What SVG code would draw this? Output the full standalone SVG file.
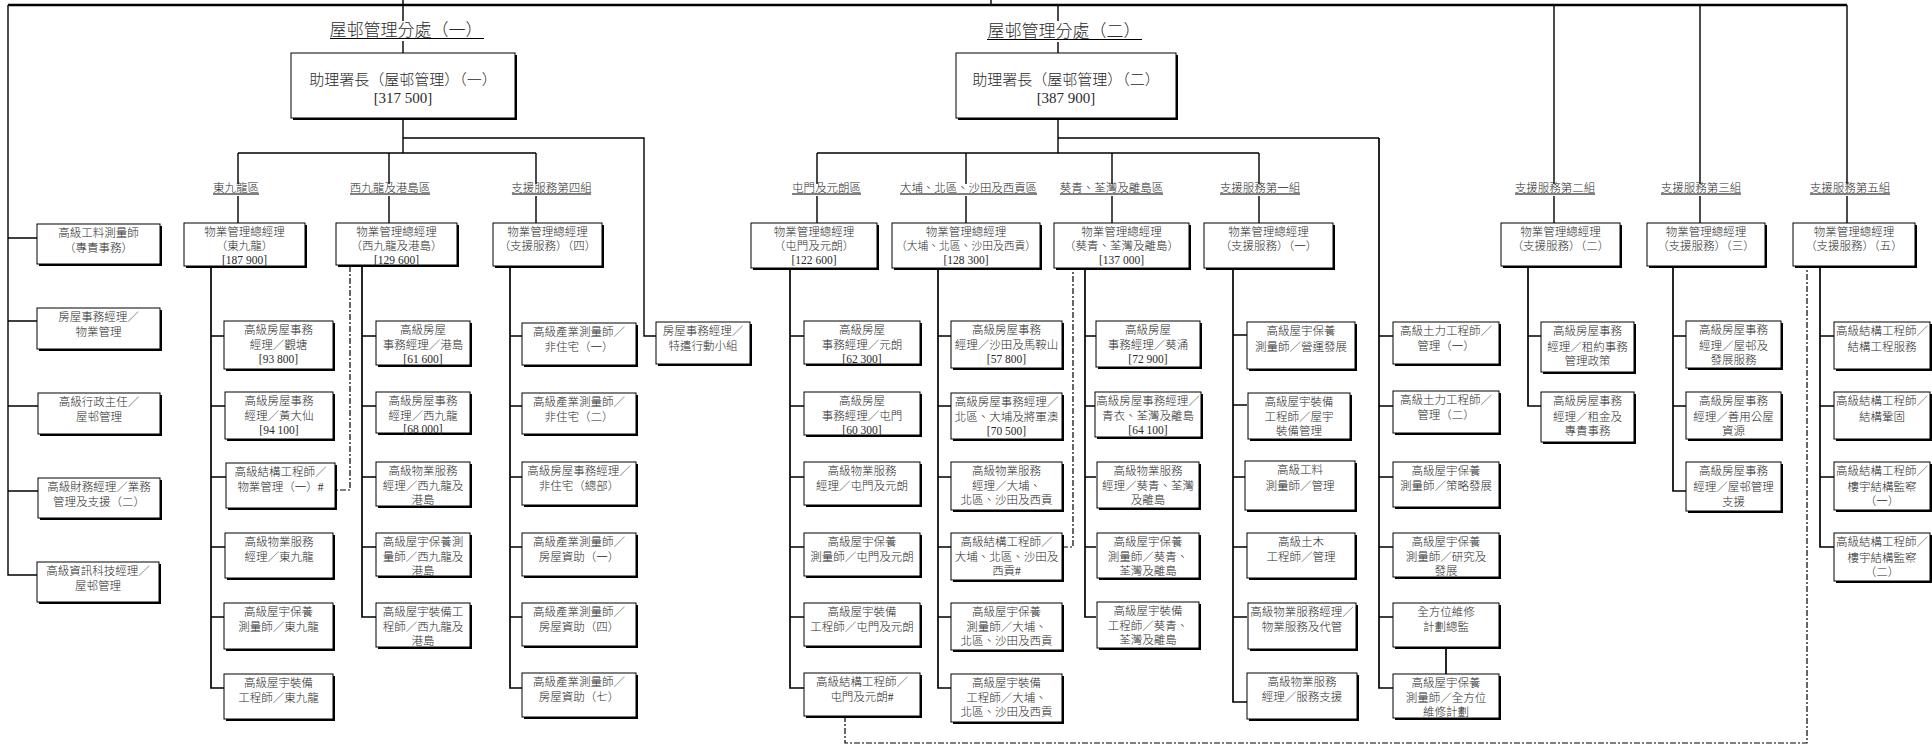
<svg xmlns="http://www.w3.org/2000/svg" width="1932" height="745" viewBox="0 0 1932 745">
<style>
.sh{fill:#000}
.bx{fill:#fff;stroke:#000;stroke-width:1}
.t{font-family:"Liberation Serif","Noto Sans CJK TC",serif;font-size:11.5px;font-weight:300;fill:#2a2a2a;text-anchor:middle}
.big{font-size:15px}
.ttl{font-size:17px}
.ln{stroke:#000;stroke-width:1.4;fill:none}
.col{stroke:#000;stroke-width:1.7;fill:none}
.top{stroke:#000;stroke-width:2.4;fill:none}
.ul{stroke:#000;stroke-width:1;fill:none}
.dash{stroke:#000;stroke-width:1.2;fill:none;stroke-dasharray:6 2 2 2}
</style>
<rect width="1932" height="745" fill="#fff"/>
<g id="connectors">
<path class="top" d="M8 5H1847"/>
<path class="ln" d="M8 5V575H37M8 238H37M8 321H37M8 406H38M8 491H38"/>
<path class="ln" d="M403 0V21M403 41V53M991 0V5M1058 5V21M1058 42V53"/>
<path class="ln" d="M403 118V153M403 138H644V336H656M238 153H536M238 153V184M238 196V223M389 153V184M389 196V223M536 153V184M536 196V223"/>
<path class="ln" d="M1058 118V153M1058 138H1379M817 153H1259M817 153V184M817 196V223M966 153V184M966 196V223M1112 153V184M1112 196V223M1259 153V184M1259 196V223"/>
<path class="ln" d="M1554 5V184M1554 196V223M1700 5V184M1700 196V223M1847 5V184M1847 196V223"/>
<path class="col" d="M211 266V688H224M211 336H224M211 406H225M211 477H226M211 547H225M211 617H224"/>
<path class="col" d="M362 265V617H376M362 336H376M362 406H376M362 477H376M362 547H376"/>
<path class="col" d="M510 266V688H522M510 336H522M510 406H522M510 477H522M510 547H522M510 617H522"/>
<path class="col" d="M790 268V688H804M790 336H804M790 406H804M790 477H804M790 547H804M790 617H804"/>
<path class="col" d="M938 268V688H951M938 336H951M938 406H951M938 477H951M938 547H951M938 617H951"/>
<path class="col" d="M1085 268V617H1096M1085 336H1096M1085 406H1096M1085 477H1096M1085 547H1096"/>
<path class="col" d="M1233 268V702H1247M1233 335H1247M1233 405H1247M1233 477H1247M1233 547H1247M1233 617H1247"/>
<path class="col" d="M1379 138V688H1393M1379 336H1393M1379 406H1393M1379 477H1393M1379 547H1393M1379 617H1393M1446 647V674"/>
<path class="col" d="M1528 266V406H1541M1528 336H1541"/>
<path class="col" d="M1673 266V491H1686M1673 336H1686M1673 406H1686"/>
<path class="col" d="M1820 266V547H1834M1820 336H1834M1820 406H1834M1820 477H1834"/>
<path class="dash" d="M350 266V490H335"/>
<path class="dash" d="M845 716V743H1807V266"/>
<path class="dash" d="M1062 547H1073V268"/>
</g>

<g id="title1"><text class="t ttl" x="406" y="36">屋邨管理分處（一）</text><path class="ul" d="M330 38.5H484"/></g>
<g id="title2"><text class="t ttl" x="1064" y="37">屋邨管理分處（二）</text><path class="ul" d="M987 39.5H1142"/></g>

<g id="ad1"><rect class="sh" x="293" y="55" width="224" height="65"/><rect class="bx" x="291" y="53" width="224" height="65"/><text class="t big" x="403" y="85">助理署長（屋邨管理）（一）</text><text class="t big" x="403" y="103">[317 500]</text></g>
<g id="ad2"><rect class="sh" x="958" y="55" width="220" height="65"/><rect class="bx" x="956" y="53" width="220" height="65"/><text class="t big" x="1066" y="85">助理署長（屋邨管理）（二）</text><text class="t big" x="1066" y="103">[387 900]</text></g>

<g id="labels">
<g id="lab_e"><text class="t" x="236" y="192">東九龍區</text><path class="ul" d="M213 194H259"/></g>
<g id="lab_w"><text class="t" x="390" y="192">西九龍及港島區</text><path class="ul" d="M350 194H430"/></g>
<g id="lab_s4"><text class="t" x="551.5" y="192">支援服務第四組</text><path class="ul" d="M512 194H591"/></g>
<g id="lab_tm"><text class="t" x="826.5" y="192">屯門及元朗區</text><path class="ul" d="M792 194H861"/></g>
<g id="lab_tp"><text class="t" x="968.5" y="192" textLength="137" lengthAdjust="spacingAndGlyphs">大埔、北區、沙田及西貢區</text><path class="ul" d="M900 194H1037"/></g>
<g id="lab_kc"><text class="t" x="1111.5" y="192">葵青、荃灣及離島區</text><path class="ul" d="M1060 194H1163"/></g>
<g id="lab_s1"><text class="t" x="1260" y="192">支援服務第一組</text><path class="ul" d="M1220 194H1300"/></g>
<g id="lab_s2"><text class="t" x="1555" y="192">支援服務第二組</text><path class="ul" d="M1515 194H1595"/></g>
<g id="lab_s3"><text class="t" x="1701" y="192">支援服務第三組</text><path class="ul" d="M1661 194H1741"/></g>
<g id="lab_s5"><text class="t" x="1850" y="192">支援服務第五組</text><path class="ul" d="M1810 194H1890"/></g>
</g>

<g id="m_east"><rect class="sh" x="186" y="225" width="121" height="43"/><rect class="bx" x="184" y="223" width="121" height="43"/><text class="t" x="244.5" y="236">物業管理總經理</text><text class="t" x="244.5" y="250">（東九龍）</text><text class="t" x="244.5" y="264">[187 900]</text></g>
<g id="m_west"><rect class="sh" x="338" y="225" width="121" height="42"/><rect class="bx" x="336" y="223" width="121" height="42"/><text class="t" x="396.5" y="236">物業管理總經理</text><text class="t" x="396.5" y="250">（西九龍及港島）</text><text class="t" x="396.5" y="263.5">[129 600]</text></g>
<g id="m_s4"><rect class="sh" x="495" y="225" width="109" height="43"/><rect class="bx" x="493" y="223" width="109" height="43"/><text class="t" x="547.5" y="236">物業管理總經理</text><text class="t" x="547.5" y="250">（支援服務）（四）</text></g>
<g id="m_tm"><rect class="sh" x="753" y="225" width="126" height="45"/><rect class="bx" x="751" y="223" width="126" height="45"/><text class="t" x="814" y="236">物業管理總經理</text><text class="t" x="814" y="250">（屯門及元朗）</text><text class="t" x="814" y="264">[122 600]</text></g>
<g id="m_tp"><rect class="sh" x="894" y="225" width="148" height="45"/><rect class="bx" x="892" y="223" width="148" height="45"/><text class="t" x="966" y="236">物業管理總經理</text><text class="t" x="966" y="250" textLength="140" lengthAdjust="spacingAndGlyphs">（大埔、北區、沙田及西貢）</text><text class="t" x="966" y="264">[128 300]</text></g>
<g id="m_kc"><rect class="sh" x="1056" y="225" width="135" height="45"/><rect class="bx" x="1054" y="223" width="135" height="45"/><text class="t" x="1121.5" y="236">物業管理總經理</text><text class="t" x="1121.5" y="250">（葵青、荃灣及離島）</text><text class="t" x="1121.5" y="264">[137 000]</text></g>
<g id="m_s1"><rect class="sh" x="1206" y="225" width="129" height="45"/><rect class="bx" x="1204" y="223" width="129" height="45"/><text class="t" x="1268.5" y="236">物業管理總經理</text><text class="t" x="1268.5" y="250">（支援服務）（一）</text></g>
<g id="m_s2"><rect class="sh" x="1503" y="225" width="119" height="43"/><rect class="bx" x="1501" y="223" width="119" height="43"/><text class="t" x="1560.5" y="236">物業管理總經理</text><text class="t" x="1560.5" y="250">（支援服務）（二）</text></g>
<g id="m_s3"><rect class="sh" x="1649" y="225" width="118" height="43"/><rect class="bx" x="1647" y="223" width="118" height="43"/><text class="t" x="1706" y="236">物業管理總經理</text><text class="t" x="1706" y="250">（支援服務）（三）</text></g>
<g id="m_s5"><rect class="sh" x="1795" y="225" width="122" height="43"/><rect class="bx" x="1793" y="223" width="122" height="43"/><text class="t" x="1854" y="236">物業管理總經理</text><text class="t" x="1854" y="250">（支援服務）（五）</text></g>

<g id="L1"><rect class="sh" x="39" y="226" width="123" height="40"/><rect class="bx" x="37" y="224" width="123" height="40"/><text class="t" x="98.5" y="237">高級工料測量師</text><text class="t" x="98.5" y="251.5">（專責事務）</text></g>
<g id="L2"><rect class="sh" x="39" y="310" width="123" height="41"/><rect class="bx" x="37" y="308" width="123" height="41"/><text class="t" x="98.5" y="321">房屋事務經理／</text><text class="t" x="98.5" y="335.5">物業管理</text></g>
<g id="L3"><rect class="sh" x="40" y="395" width="122" height="41"/><rect class="bx" x="38" y="393" width="122" height="41"/><text class="t" x="99" y="406">高級行政主任／</text><text class="t" x="99" y="420.5">屋邨管理</text></g>
<g id="L4"><rect class="sh" x="40" y="480" width="122" height="40"/><rect class="bx" x="38" y="478" width="122" height="40"/><text class="t" x="99" y="491">高級財務經理／業務</text><text class="t" x="99" y="505.5">管理及支援（二）</text></g>
<g id="L5"><rect class="sh" x="39" y="564" width="122" height="40"/><rect class="bx" x="37" y="562" width="122" height="40"/><text class="t" x="98" y="575">高級資訊科技經理／</text><text class="t" x="98" y="589.5">屋邨管理</text></g>

<g id="X1"><rect class="sh" x="658" y="324" width="94" height="42"/><rect class="bx" x="656" y="322" width="94" height="42"/><text class="t" x="703" y="335">房屋事務經理／</text><text class="t" x="703" y="349.5">特遣行動小組</text></g>

<g id="E1"><rect class="sh" x="226" y="323" width="109" height="48"/><rect class="bx" x="224" y="321" width="109" height="48"/><text class="t" x="278.5" y="334">高級房屋事務</text><text class="t" x="278.5" y="348.5">經理／觀塘</text><text class="t" x="278.5" y="363">[93 800]</text></g>
<g id="E2"><rect class="sh" x="227" y="394" width="108" height="47"/><rect class="bx" x="225" y="392" width="108" height="47"/><text class="t" x="279" y="405">高級房屋事務</text><text class="t" x="279" y="419.5">經理／黃大仙</text><text class="t" x="279" y="434">[94 100]</text></g>
<g id="E3"><rect class="sh" x="228" y="465" width="109" height="45"/><rect class="bx" x="226" y="463" width="109" height="45"/><text class="t" x="280.5" y="476">高級結構工程師／</text><text class="t" x="280.5" y="490.5">物業管理（一）#</text></g>
<g id="E4"><rect class="sh" x="227" y="535" width="108" height="45"/><rect class="bx" x="225" y="533" width="108" height="45"/><text class="t" x="279" y="546">高級物業服務</text><text class="t" x="279" y="560.5">經理／東九龍</text></g>
<g id="E5"><rect class="sh" x="226" y="605" width="109" height="46"/><rect class="bx" x="224" y="603" width="109" height="46"/><text class="t" x="278.5" y="616">高級屋宇保養</text><text class="t" x="278.5" y="630.5">測量師／東九龍</text></g>
<g id="E6"><rect class="sh" x="226" y="676" width="109" height="45"/><rect class="bx" x="224" y="674" width="109" height="45"/><text class="t" x="278.5" y="687">高級屋宇裝備</text><text class="t" x="278.5" y="701.5">工程師／東九龍</text></g>

<g id="W1"><rect class="sh" x="378" y="323" width="94" height="44"/><rect class="bx" x="376" y="321" width="94" height="44"/><text class="t" x="423" y="334">高級房屋</text><text class="t" x="423" y="348.5">事務經理／港島</text><text class="t" x="423" y="363">[61 600]</text></g>
<g id="W2"><rect class="sh" x="378" y="394" width="94" height="41"/><rect class="bx" x="376" y="392" width="94" height="41"/><text class="t" x="423" y="405">高級房屋事務</text><text class="t" x="423" y="419.5">經理／西九龍</text><text class="t" x="423" y="433">[68 000]</text></g>
<g id="W3"><rect class="sh" x="378" y="464" width="94" height="44"/><rect class="bx" x="376" y="462" width="94" height="44"/><text class="t" x="423" y="475">高級物業服務</text><text class="t" x="423" y="489.5">經理／西九龍及</text><text class="t" x="423" y="504">港島</text></g>
<g id="W4"><rect class="sh" x="378" y="535" width="94" height="43"/><rect class="bx" x="376" y="533" width="94" height="43"/><text class="t" x="423" y="546">高級屋宇保養測</text><text class="t" x="423" y="560.5">量師／西九龍及</text><text class="t" x="423" y="575">港島</text></g>
<g id="W5"><rect class="sh" x="378" y="605" width="94" height="44"/><rect class="bx" x="376" y="603" width="94" height="44"/><text class="t" x="423" y="616">高級屋宇裝備工</text><text class="t" x="423" y="630.5">程師／西九龍及</text><text class="t" x="423" y="645">港島</text></g>

<g id="S1"><rect class="sh" x="524" y="325" width="114" height="42"/><rect class="bx" x="522" y="323" width="114" height="42"/><text class="t" x="579" y="336">高級產業測量師／</text><text class="t" x="579" y="350.5">非住宅（一）</text></g>
<g id="S2"><rect class="sh" x="524" y="395" width="114" height="41"/><rect class="bx" x="522" y="393" width="114" height="41"/><text class="t" x="579" y="406">高級產業測量師／</text><text class="t" x="579" y="420.5">非住宅（二）</text></g>
<g id="S3"><rect class="sh" x="524" y="464" width="114" height="43"/><rect class="bx" x="522" y="462" width="114" height="43"/><text class="t" x="579" y="475">高級房屋事務經理／</text><text class="t" x="579" y="489.5">非住宅（總部）</text></g>
<g id="S4"><rect class="sh" x="524" y="535" width="114" height="43"/><rect class="bx" x="522" y="533" width="114" height="43"/><text class="t" x="579" y="546">高級產業測量師／</text><text class="t" x="579" y="560.5">房屋資助（一）</text></g>
<g id="S5"><rect class="sh" x="524" y="605" width="114" height="43"/><rect class="bx" x="522" y="603" width="114" height="43"/><text class="t" x="579" y="616">高級產業測量師／</text><text class="t" x="579" y="630.5">房屋資助（四）</text></g>
<g id="S6"><rect class="sh" x="524" y="675" width="114" height="44"/><rect class="bx" x="522" y="673" width="114" height="44"/><text class="t" x="579" y="686">高級產業測量師／</text><text class="t" x="579" y="700.5">房屋資助（七）</text></g>

<g id="T1"><rect class="sh" x="806" y="323" width="116" height="43"/><rect class="bx" x="804" y="321" width="116" height="43"/><text class="t" x="862" y="334">高級房屋</text><text class="t" x="862" y="348.5">事務經理／元朗</text><text class="t" x="862" y="363">[62 300]</text></g>
<g id="T2"><rect class="sh" x="806" y="394" width="116" height="43"/><rect class="bx" x="804" y="392" width="116" height="43"/><text class="t" x="862" y="405">高級房屋</text><text class="t" x="862" y="419.5">事務經理／屯門</text><text class="t" x="862" y="434">[60 300]</text></g>
<g id="T3"><rect class="sh" x="806" y="464" width="116" height="43"/><rect class="bx" x="804" y="462" width="116" height="43"/><text class="t" x="862" y="475">高級物業服務</text><text class="t" x="862" y="489.5">經理／屯門及元朗</text></g>
<g id="T4"><rect class="sh" x="806" y="535" width="116" height="43"/><rect class="bx" x="804" y="533" width="116" height="43"/><text class="t" x="862" y="546">高級屋宇保養</text><text class="t" x="862" y="560.5">測量師／屯門及元朗</text></g>
<g id="T5"><rect class="sh" x="806" y="605" width="116" height="43"/><rect class="bx" x="804" y="603" width="116" height="43"/><text class="t" x="862" y="616">高級屋宇裝備</text><text class="t" x="862" y="630.5">工程師／屯門及元朗</text></g>
<g id="T6"><rect class="sh" x="806" y="675" width="116" height="43"/><rect class="bx" x="804" y="673" width="116" height="43"/><text class="t" x="862" y="686">高級結構工程師／</text><text class="t" x="862" y="700.5">屯門及元朗#</text></g>

<g id="P1"><rect class="sh" x="953" y="323" width="111" height="47"/><rect class="bx" x="951" y="321" width="111" height="47"/><text class="t" x="1006.5" y="334">高級房屋事務</text><text class="t" x="1006.5" y="348.5">經理／沙田及馬鞍山</text><text class="t" x="1006.5" y="363">[57 800]</text></g>
<g id="P2"><rect class="sh" x="953" y="395" width="111" height="46"/><rect class="bx" x="951" y="393" width="111" height="46"/><text class="t" x="1006.5" y="406">高級房屋事務經理／</text><text class="t" x="1006.5" y="420.5">北區、大埔及將軍澳</text><text class="t" x="1006.5" y="435">[70 500]</text></g>
<g id="P3"><rect class="sh" x="953" y="464" width="111" height="48"/><rect class="bx" x="951" y="462" width="111" height="48"/><text class="t" x="1006.5" y="475">高級物業服務</text><text class="t" x="1006.5" y="489.5">經理／大埔、</text><text class="t" x="1006.5" y="504">北區、沙田及西貢</text></g>
<g id="P4"><rect class="sh" x="953" y="535" width="111" height="47"/><rect class="bx" x="951" y="533" width="111" height="47"/><text class="t" x="1006.5" y="546">高級結構工程師／</text><text class="t" x="1006.5" y="560.5">大埔、北區、沙田及</text><text class="t" x="1006.5" y="575">西貢#</text></g>
<g id="P5"><rect class="sh" x="953" y="605" width="111" height="47"/><rect class="bx" x="951" y="603" width="111" height="47"/><text class="t" x="1006.5" y="616">高級屋宇保養</text><text class="t" x="1006.5" y="630.5">測量師／大埔、</text><text class="t" x="1006.5" y="645">北區、沙田及西貢</text></g>
<g id="P6"><rect class="sh" x="953" y="676" width="111" height="48"/><rect class="bx" x="951" y="674" width="111" height="48"/><text class="t" x="1006.5" y="687">高級屋宇裝備</text><text class="t" x="1006.5" y="701.5">工程師／大埔、</text><text class="t" x="1006.5" y="716">北區、沙田及西貢</text></g>

<g id="K1"><rect class="sh" x="1098" y="323" width="104" height="46"/><rect class="bx" x="1096" y="321" width="104" height="46"/><text class="t" x="1148" y="334">高級房屋</text><text class="t" x="1148" y="348.5">事務經理／葵涌</text><text class="t" x="1148" y="363">[72 900]</text></g>
<g id="K2"><rect class="sh" x="1097" y="394" width="106" height="45"/><rect class="bx" x="1095" y="392" width="106" height="45"/><text class="t" x="1148" y="405">高級房屋事務經理／</text><text class="t" x="1148" y="419.5">青衣、荃灣及離島</text><text class="t" x="1148" y="434">[64 100]</text></g>
<g id="K3"><rect class="sh" x="1099" y="464" width="102" height="46"/><rect class="bx" x="1097" y="462" width="102" height="46"/><text class="t" x="1148" y="475">高級物業服務</text><text class="t" x="1148" y="489.5">經理／葵青、荃灣</text><text class="t" x="1148" y="504">及離島</text></g>
<g id="K4"><rect class="sh" x="1099" y="535" width="102" height="45"/><rect class="bx" x="1097" y="533" width="102" height="45"/><text class="t" x="1148" y="546">高級屋宇保養</text><text class="t" x="1148" y="560.5">測量師／葵青、</text><text class="t" x="1148" y="575">荃灣及離島</text></g>
<g id="K5"><rect class="sh" x="1099" y="604" width="102" height="46"/><rect class="bx" x="1097" y="602" width="102" height="46"/><text class="t" x="1148" y="615">高級屋宇裝備</text><text class="t" x="1148" y="629.5">工程師／葵青、</text><text class="t" x="1148" y="644">荃灣及離島</text></g>

<g id="O1"><rect class="sh" x="1249" y="324" width="108" height="47"/><rect class="bx" x="1247" y="322" width="108" height="47"/><text class="t" x="1301" y="335">高級屋宇保養</text><text class="t" x="1301" y="350.5">測量師／營運發展</text></g>
<g id="O2"><rect class="sh" x="1250" y="395" width="102" height="46"/><rect class="bx" x="1248" y="393" width="102" height="46"/><text class="t" x="1299" y="406">高級屋宇裝備</text><text class="t" x="1299" y="420.5">工程師／屋宇</text><text class="t" x="1299" y="435">裝備管理</text></g>
<g id="O3"><rect class="sh" x="1247" y="463" width="110" height="49"/><rect class="bx" x="1245" y="461" width="110" height="49"/><text class="t" x="1300" y="474">高級工料</text><text class="t" x="1300" y="489.5">測量師／管理</text></g>
<g id="O4"><rect class="sh" x="1249" y="535" width="108" height="45"/><rect class="bx" x="1247" y="533" width="108" height="45"/><text class="t" x="1301" y="546">高級土木</text><text class="t" x="1301" y="560.5">工程師／管理</text></g>
<g id="O5"><rect class="sh" x="1250" y="605" width="108" height="46"/><rect class="bx" x="1248" y="603" width="108" height="46"/><text class="t" x="1302" y="616">高級物業服務經理／</text><text class="t" x="1302" y="630.5">物業服務及代管</text></g>
<g id="O6"><rect class="sh" x="1249" y="675" width="110" height="46"/><rect class="bx" x="1247" y="673" width="110" height="46"/><text class="t" x="1302" y="686">高級物業服務</text><text class="t" x="1302" y="700.5">經理／服務支援</text></g>

<g id="G1"><rect class="sh" x="1395" y="324" width="106" height="42"/><rect class="bx" x="1393" y="322" width="106" height="42"/><text class="t" x="1446" y="335">高級土力工程師／</text><text class="t" x="1446" y="349.5">管理（一）</text></g>
<g id="G2"><rect class="sh" x="1395" y="393" width="106" height="42"/><rect class="bx" x="1393" y="391" width="106" height="42"/><text class="t" x="1446" y="404">高級土力工程師／</text><text class="t" x="1446" y="418.5">管理（二）</text></g>
<g id="G3"><rect class="sh" x="1395" y="464" width="106" height="45"/><rect class="bx" x="1393" y="462" width="106" height="45"/><text class="t" x="1446" y="475">高級屋宇保養</text><text class="t" x="1446" y="489.5">測量師／策略發展</text></g>
<g id="G4"><rect class="sh" x="1395" y="535" width="106" height="44"/><rect class="bx" x="1393" y="533" width="106" height="44"/><text class="t" x="1446" y="546">高級屋宇保養</text><text class="t" x="1446" y="560.5">測量師／研究及</text><text class="t" x="1446" y="575">發展</text></g>
<g id="G5"><rect class="sh" x="1395" y="605" width="106" height="44"/><rect class="bx" x="1393" y="603" width="106" height="44"/><text class="t" x="1446" y="616">全方位維修</text><text class="t" x="1446" y="630.5">計劃總監</text></g>
<g id="G6"><rect class="sh" x="1395" y="676" width="106" height="44"/><rect class="bx" x="1393" y="674" width="106" height="44"/><text class="t" x="1446" y="687">高級屋宇保養</text><text class="t" x="1446" y="701.5">測量師／全方位</text><text class="t" x="1446" y="716">維修計劃</text></g>

<g id="A1"><rect class="sh" x="1543" y="324" width="93" height="50"/><rect class="bx" x="1541" y="322" width="93" height="50"/><text class="t" x="1587.5" y="335">高級房屋事務</text><text class="t" x="1587.5" y="350.5">經理／租約事務</text><text class="t" x="1587.5" y="365">管理政策</text></g>
<g id="A2"><rect class="sh" x="1543" y="394" width="93" height="50"/><rect class="bx" x="1541" y="392" width="93" height="50"/><text class="t" x="1587.5" y="405">高級房屋事務</text><text class="t" x="1587.5" y="420.5">經理／租金及</text><text class="t" x="1587.5" y="435">專責事務</text></g>

<g id="B1"><rect class="sh" x="1688" y="323" width="95" height="47"/><rect class="bx" x="1686" y="321" width="95" height="47"/><text class="t" x="1733.5" y="334">高級房屋事務</text><text class="t" x="1733.5" y="349.5">經理／屋邨及</text><text class="t" x="1733.5" y="364">發展服務</text></g>
<g id="B2"><rect class="sh" x="1688" y="394" width="95" height="47"/><rect class="bx" x="1686" y="392" width="95" height="47"/><text class="t" x="1733.5" y="405">高級房屋事務</text><text class="t" x="1733.5" y="420.5">經理／善用公屋</text><text class="t" x="1733.5" y="435">資源</text></g>
<g id="B3"><rect class="sh" x="1688" y="464" width="95" height="49"/><rect class="bx" x="1686" y="462" width="95" height="49"/><text class="t" x="1733.5" y="475">高級房屋事務</text><text class="t" x="1733.5" y="490.5">經理／屋邨管理</text><text class="t" x="1733.5" y="506">支援</text></g>

<g id="C1"><rect class="sh" x="1836" y="324" width="96" height="47"/><rect class="bx" x="1834" y="322" width="96" height="47"/><text class="t" x="1882" y="335">高級結構工程師／</text><text class="t" x="1882" y="351">結構工程服務</text></g>
<g id="C2"><rect class="sh" x="1836" y="394" width="96" height="47"/><rect class="bx" x="1834" y="392" width="96" height="47"/><text class="t" x="1882" y="405">高級結構工程師／</text><text class="t" x="1882" y="421">結構鞏固</text></g>
<g id="C3"><rect class="sh" x="1836" y="464" width="96" height="48"/><rect class="bx" x="1834" y="462" width="96" height="48"/><text class="t" x="1882" y="475">高級結構工程師／</text><text class="t" x="1882" y="490.5">樓宇結構監察</text><text class="t" x="1882" y="505">（一）</text></g>
<g id="C4"><rect class="sh" x="1836" y="535" width="96" height="48"/><rect class="bx" x="1834" y="533" width="96" height="48"/><text class="t" x="1882" y="546">高級結構工程師／</text><text class="t" x="1882" y="561.5">樓宇結構監察</text><text class="t" x="1882" y="576">（二）</text></g>
</svg>
